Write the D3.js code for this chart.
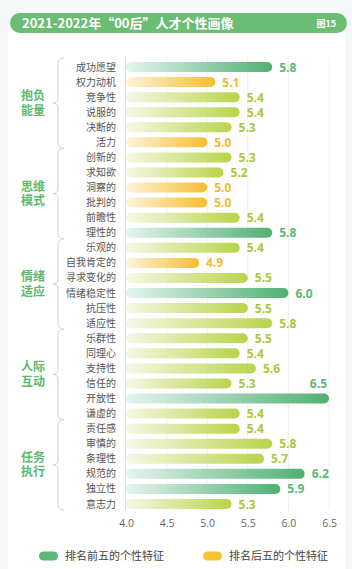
<!DOCTYPE html>
<html>
<head>
<meta charset="utf-8">
<script src="https://cdn.jsdelivr.net/npm/d3@7"></script>
<style>
  body { margin: 0; background: #f5f7f8; }
  svg { display: block; }
</style>
</head>
<body>
<div id="chart"></div>
<script>
// data
const traits = ['成功愿望', '权力动机', '竞争性', '说服的', '决断的', '活力',
  '创新的', '求知欲', '洞察的', '批判的', '前瞻性', '理性的',
  '乐观的', '自我肯定的', '寻求变化的', '情绪稳定性', '抗压性', '适应性',
  '乐群性', '同理心', '支持性', '信任的', '开放性', '谦虚的',
  '责任感', '审慎的', '条理性', '规范的', '独立性', '意志力']
const values = [5.8, 5.1, 5.4, 5.4, 5.3, 5.0,
  5.3, 5.2, 5.0, 5.0, 5.4, 5.8,
  5.4, 4.9, 5.5, 6.0, 5.5, 5.8,
  5.5, 5.4, 5.6, 5.3, 6.5, 5.4,
  5.4, 5.8, 5.7, 6.2, 5.9, 5.3]
const tiers = ['top', 'low', 'mid', 'mid', 'mid', 'low',
  'mid', 'mid', 'low', 'low', 'mid', 'top',
  'mid', 'low', 'mid', 'top', 'mid', 'mid',
  'mid', 'mid', 'mid', 'mid', 'top', 'mid',
  'mid', 'mid', 'mid', 'top', 'top', 'mid']
const groupNames = [['抱负', '能量'], ['思维', '模式'], ['情绪', '适应'], ['人际', '互动'], ['任务', '执行']]
const groupSizes = [6, 6, 6, 6, 6]
const ticks = [4.0, 4.5, 5.0, 5.5, 6.0, 6.5]
const legendLabels = ['排名前五的个性特征', '排名后五的个性特征']

const W = 352, H = 569
const green = '#6bbd74'
const colors = {
  top: {from: '#e6f4ef', to: '#4fb073', text: '#5cb874'},
  mid: {from: '#f6f8e6', to: '#b8d44a', text: '#a9c83c'},
  low: {from: '#fdf4dc', to: '#f7bd2f', text: '#f4b92c'}
}
const cjk = '"Noto Sans CJK SC", "Noto Sans", sans-serif'
const num = '"Open Sans", "Noto Sans", sans-serif'

const svg = d3.select('#chart').append('svg')
    .attr('width', W)
    .attr('height', H)

svg.append('rect').attr('width', W).attr('height', H).attr('fill', '#f5f7f8')
svg.append('rect').attr('x', 8).attr('y', 30).attr('width', W - 14).attr('height', H - 30).attr('fill', '#ffffff')

const defs = svg.append('defs')
Object.keys(colors).forEach(k => {
  const g = defs.append('linearGradient').attr('id', 'grad-' + k)
  g.append('stop').attr('offset', '0%').attr('stop-color', colors[k].from)
  g.append('stop').attr('offset', '100%').attr('stop-color', colors[k].to)
})

// title bar
svg.append('rect')
    .attr('x', 10).attr('y', 13).attr('width', 337).attr('height', 20)
    .attr('rx', 10).attr('fill', green)
svg.append('text')
    .attr('x', 22).attr('y', 27.5)
    .attr('fill', '#fff').attr('font-family', cjk).attr('font-weight', 700).attr('font-size', 13)
    .text('2021-2022年“00后”人才个性画像')
svg.append('text')
    .attr('x', 336).attr('y', 27)
    .attr('text-anchor', 'end')
    .attr('fill', '#fff').attr('font-family', cjk).attr('font-weight', 700).attr('font-size', 9)
    .text('图15')

const x = d3.scaleLinear().domain([4, 6.5]).range([126, 329])
const y = d3.scalePoint().domain(traits).range([67, 504])
const barH = 10

// grid
svg.append('g').selectAll('line')
  .data(ticks.slice(1))
  .join('line')
    .attr('x1', d => x(d)).attr('x2', d => x(d))
    .attr('y1', 57).attr('y2', 510)
    .attr('stroke', '#eef0f0').attr('stroke-width', 1)

svg.append('line')
    .attr('x1', 125.5).attr('x2', 125.5).attr('y1', 57).attr('y2', 510)
    .attr('stroke', '#dcdcdc')

// axis
const axis = svg.append('g')
    .attr('transform', 'translate(0,516)')
    .call(d3.axisBottom(x).tickValues(ticks).tickFormat(d3.format('.1f')).tickSize(0).tickPadding(4))
axis.select('.domain').remove()
axis.selectAll('text')
    .attr('font-family', num).attr('font-size', 10.5).attr('fill', '#666')

// bars
const rows = svg.append('g').selectAll('g')
  .data(traits.map((t, i) => ({t, v: values[i], tier: tiers[i]})))
  .join('g')

rows.append('rect')
    .attr('x', x(4))
    .attr('y', d => y(d.t) - barH / 2)
    .attr('width', d => x(d.v) - x(4))
    .attr('height', barH)
    .attr('rx', barH / 2)
    .attr('fill', d => 'url(#grad-' + d.tier + ')')

rows.append('text')
    .attr('x', d => x(d.v) + 30 > W ? x(d.v) - 2 : x(d.v) + 7)
    .attr('y', d => x(d.v) + 30 > W ? y(d.t) - 11 : y(d.t) + 4.5)
    .attr('text-anchor', d => x(d.v) + 30 > W ? 'end' : 'start')
    .attr('font-family', num).attr('font-weight', 700).attr('font-size', 12)
    .attr('fill', d => colors[d.tier].text)
    .text(d => d3.format('.1f')(d.v))

rows.append('text')
    .attr('x', 116)
    .attr('y', d => y(d.t) + 3.5)
    .attr('text-anchor', 'end')
    .attr('font-family', cjk).attr('font-size', 10).attr('fill', '#555')
    .text(d => d.t)

// groups with braces
let start = 0
groupNames.forEach((name, gi) => {
  const first = traits[start], last = traits[start + groupSizes[gi] - 1]
  const y0 = y(first) - 9, y1 = y(last) + 6, ym = (y0 + y1) / 2
  const bx = 58
  svg.append('path')
      .attr('d', `M${bx + 6},${y0} Q${bx},${y0} ${bx},${y0 + 6} L${bx},${ym - 5} Q${bx},${ym} ${bx - 5},${ym} Q${bx},${ym} ${bx},${ym + 5} L${bx},${y1 - 6} Q${bx},${y1} ${bx + 6},${y1}`)
      .attr('fill', 'none').attr('stroke', '#cfcfcf').attr('stroke-width', 1)
  svg.append('g').selectAll('text')
    .data(name)
    .join('text')
      .attr('x', 33)
      .attr('y', (d, i) => ym - 3 + i * 14.5)
      .attr('text-anchor', 'middle')
      .attr('font-family', cjk).attr('font-weight', 700).attr('font-size', 12)
      .attr('fill', '#5dba6c')
      .text(d => d)
  start += groupSizes[gi]
})

// legend
const legend = svg.append('g').selectAll('g')
  .data(legendLabels)
  .join('g')
    .attr('transform', (d, i) => `translate(${i === 0 ? 39 : 203},556)`)
legend.append('rect')
    .attr('x', 0).attr('y', -4.5).attr('width', 19).attr('height', 9).attr('rx', 4.5)
    .attr('fill', (d, i) => i === 0 ? '#5fb677' : '#f6c232')
legend.append('text')
    .attr('x', 26).attr('y', 4)
    .attr('font-family', cjk).attr('font-size', 11).attr('fill', '#444')
    .text(d => d)
</script>
</body>
</html>
